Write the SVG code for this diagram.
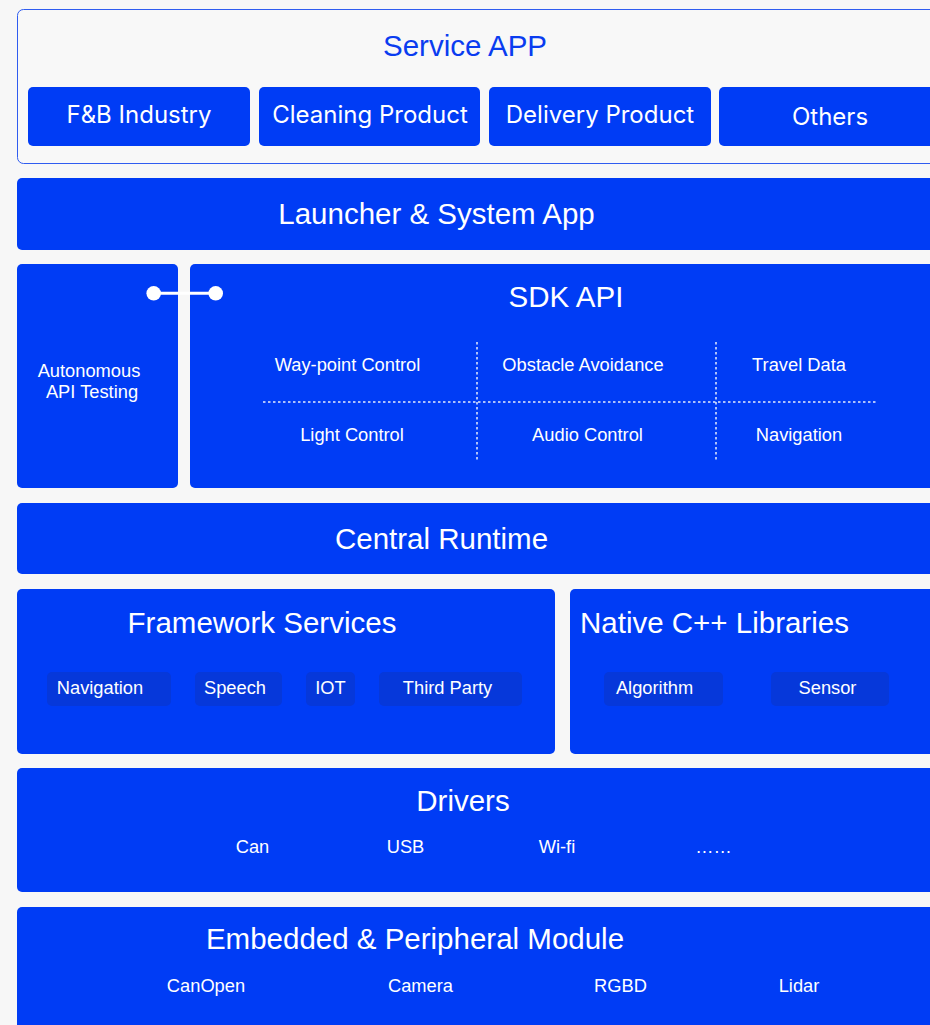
<svg xmlns="http://www.w3.org/2000/svg" width="930" height="1025" viewBox="0 0 930 1025">
  <style>
    .blk { fill: #003cf5; }
    .pill { fill: #0638da; }
    .title { font-family: "Liberation Sans", Arial, sans-serif; font-size: 29.5px; fill: #ffffff; text-anchor: middle; }
    .lbl { font-family: "Liberation Sans", Arial, sans-serif; font-size: 18.3px; fill: #ffffff; text-anchor: middle; }
    .app { font-family: Inter, "Liberation Sans", sans-serif; font-size: 24px; font-weight: 400; fill: #ffffff; text-anchor: middle; }
    .dot { stroke: #ffffff; stroke-width: 1.5; stroke-dasharray: 2.5 2.5; fill: none; opacity: 0.9; }
  </style>
  <rect x="0" y="0" width="930" height="1025" fill="#f7f7f7"/>

  <g id="service-app">
    <rect x="17.5" y="9.5" width="930" height="154" rx="6" fill="#f8f8f8" stroke="#2f5cf0" stroke-width="1"/>
    <text x="465" y="56" class="title" style="fill:#0a3cf0">Service APP</text>
  </g>
  <g id="fnb">
    <rect x="28" y="87" width="222" height="59" rx="5" class="blk"/>
    <text x="139" y="123" class="app">F&amp;B Industry</text>
  </g>
  <g id="cleaning">
    <rect x="259" y="87" width="221" height="59" rx="5" class="blk"/>
    <text x="370" y="123" class="app">Cleaning Product</text>
  </g>
  <g id="delivery">
    <rect x="489" y="87" width="222" height="59" rx="5" class="blk"/>
    <text x="600" y="123" class="app">Delivery Product</text>
  </g>
  <g id="others">
    <rect x="719" y="87" width="230" height="59" rx="5" class="blk"/>
    <text x="830" y="125" class="app">Others</text>
  </g>

  <g id="launcher">
    <rect x="17" y="178" width="930" height="72" rx="5" class="blk"/>
    <text x="436.5" y="224" class="title">Launcher &amp; System App</text>
  </g>

  <g id="autonomous">
    <rect x="17" y="264" width="161" height="224" rx="5" class="blk"/>
    <text x="89" y="377" class="lbl">Autonomous</text>
    <text x="92" y="398" class="lbl">API Testing</text>
  </g>

  <g id="sdk-api">
    <rect x="190" y="264" width="760" height="224" rx="5" class="blk"/>
    <text x="566" y="307" class="title">SDK API</text>
    <line x1="263" y1="402" x2="878" y2="402" class="dot"/>
    <line x1="477" y1="342" x2="477" y2="461" class="dot"/>
    <line x1="716" y1="342" x2="716" y2="461" class="dot"/>
    <text x="347.5" y="371" class="lbl">Way-point Control</text>
    <text x="583" y="371" class="lbl">Obstacle Avoidance</text>
    <text x="799" y="371" class="lbl">Travel Data</text>
    <text x="352" y="441" class="lbl">Light Control</text>
    <text x="587.5" y="441" class="lbl">Audio Control</text>
    <text x="799" y="441" class="lbl">Navigation</text>
  </g>

  <g id="connectors">
    <line x1="154" y1="293.3" x2="216" y2="293.3" stroke="#ffffff" stroke-width="3"/>
    <circle cx="153.7" cy="293.3" r="7.3" fill="#ffffff"/>
    <circle cx="215.7" cy="293.3" r="7.3" fill="#ffffff"/>
  </g>

  <g id="central-runtime">
    <rect x="17" y="503" width="930" height="71" rx="5" class="blk"/>
    <text x="441.5" y="549" class="title">Central Runtime</text>
  </g>

  <g id="framework-services">
    <rect x="17" y="589" width="538" height="165" rx="5" class="blk"/>
    <text x="262" y="633" class="title">Framework Services</text>
    <rect x="47" y="672" width="124" height="34" rx="5" class="pill"/>
    <text x="100" y="694" class="lbl">Navigation</text>
    <rect x="195" y="672" width="87" height="34" rx="5" class="pill"/>
    <text x="235" y="694" class="lbl">Speech</text>
    <rect x="306" y="672" width="49" height="34" rx="5" class="pill"/>
    <text x="330.5" y="694" class="lbl">IOT</text>
    <rect x="379" y="672" width="143" height="34" rx="5" class="pill"/>
    <text x="447.5" y="694" class="lbl">Third Party</text>
  </g>

  <g id="native-libs">
    <rect x="570" y="589" width="380" height="165" rx="5" class="blk"/>
    <text x="580" y="633" class="title" style="text-anchor:start">Native C++ Libraries</text>
    <rect x="604" y="672" width="119" height="34" rx="5" class="pill"/>
    <text x="654.5" y="694" class="lbl">Algorithm</text>
    <rect x="771" y="672" width="118" height="34" rx="5" class="pill"/>
    <text x="827.5" y="694" class="lbl">Sensor</text>
  </g>

  <g id="drivers">
    <rect x="17" y="768" width="930" height="124" rx="5" class="blk"/>
    <text x="463" y="811" class="title">Drivers</text>
    <text x="252.5" y="853" class="lbl">Can</text>
    <text x="405.5" y="853" class="lbl">USB</text>
    <text x="557" y="853" class="lbl">Wi-fi</text>
    <text x="713.5" y="853" class="lbl">……</text>
  </g>

  <g id="embedded">
    <rect x="17" y="907" width="930" height="140" rx="5" class="blk"/>
    <text x="415" y="949" class="title">Embedded &amp; Peripheral Module</text>
    <text x="206" y="992" class="lbl">CanOpen</text>
    <text x="420.5" y="992" class="lbl">Camera</text>
    <text x="620.5" y="992" class="lbl">RGBD</text>
    <text x="799" y="992" class="lbl">Lidar</text>
  </g>
</svg>
